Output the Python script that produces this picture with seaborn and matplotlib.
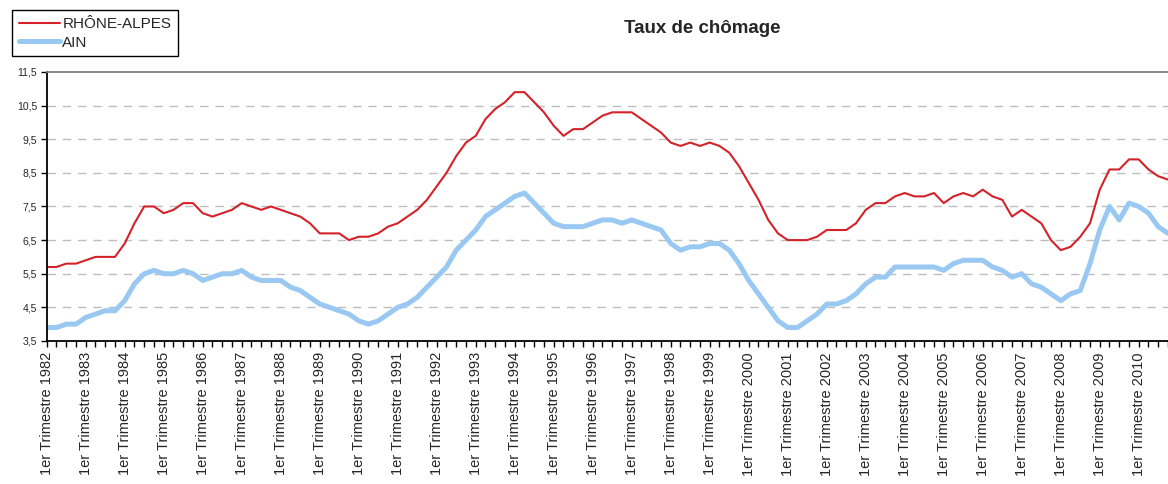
import numpy as np
import pandas as pd
import matplotlib
matplotlib.use("Agg")
import matplotlib.pyplot as plt
import seaborn as sns

# chart data: quarterly unemployment rates, 1982 Q1 -> 2010 Q4
years = list(range(1982, 2011))
quarter_names = ["1er", "2e", "3e", "4e"]
quarters = [q + " Trimestre " + str(y) for y in years for q in quarter_names]

rhone_alpes = [
    5.7, 5.7, 5.8, 5.8, 5.9, 6.0, 6.0, 6.0, 6.4, 7.0,
    7.5, 7.5, 7.3, 7.4, 7.6, 7.6, 7.3, 7.2, 7.3, 7.4,
    7.6, 7.5, 7.4, 7.5, 7.4, 7.3, 7.2, 7.0, 6.7, 6.7,
    6.7, 6.5, 6.6, 6.6, 6.7, 6.9, 7.0, 7.2, 7.4, 7.7,
    8.1, 8.5, 9.0, 9.4, 9.6, 10.1, 10.4, 10.6, 10.9, 10.9,
    10.6, 10.3, 9.9, 9.6, 9.8, 9.8, 10.0, 10.2, 10.3, 10.3,
    10.3, 10.1, 9.9, 9.7, 9.4, 9.3, 9.4, 9.3, 9.4, 9.3,
    9.1, 8.7, 8.2, 7.7, 7.1, 6.7, 6.5, 6.5, 6.5, 6.6,
    6.8, 6.8, 6.8, 7.0, 7.4, 7.6, 7.6, 7.8, 7.9, 7.8,
    7.8, 7.9, 7.6, 7.8, 7.9, 7.8, 8.0, 7.8, 7.7, 7.2,
    7.4, 7.2, 7.0, 6.5, 6.2, 6.3, 6.6, 7.0, 8.0, 8.6,
    8.6, 8.9, 8.9, 8.6, 8.4, 8.3,
]
ain = [
    3.9, 3.9, 4.0, 4.0, 4.2, 4.3, 4.4, 4.4, 4.7, 5.2,
    5.5, 5.6, 5.5, 5.5, 5.6, 5.5, 5.3, 5.4, 5.5, 5.5,
    5.6, 5.4, 5.3, 5.3, 5.3, 5.1, 5.0, 4.8, 4.6, 4.5,
    4.4, 4.3, 4.1, 4.0, 4.1, 4.3, 4.5, 4.6, 4.8, 5.1,
    5.4, 5.7, 6.2, 6.5, 6.8, 7.2, 7.4, 7.6, 7.8, 7.9,
    7.6, 7.3, 7.0, 6.9, 6.9, 6.9, 7.0, 7.1, 7.1, 7.0,
    7.1, 7.0, 6.9, 6.8, 6.4, 6.2, 6.3, 6.3, 6.4, 6.4,
    6.2, 5.8, 5.3, 4.9, 4.5, 4.1, 3.9, 3.9, 4.1, 4.3,
    4.6, 4.6, 4.7, 4.9, 5.2, 5.4, 5.4, 5.7, 5.7, 5.7,
    5.7, 5.7, 5.6, 5.8, 5.9, 5.9, 5.9, 5.7, 5.6, 5.4,
    5.5, 5.2, 5.1, 4.9, 4.7, 4.9, 5.0, 5.8, 6.8, 7.5,
    7.1, 7.6, 7.5, 7.3, 6.9, 6.7,
]
y_ticks = [3.5, 4.5, 5.5, 6.5, 7.5, 8.5, 9.5, 10.5, 11.5]

df = pd.DataFrame({
    "trimestre": quarters,
    "pos": range(len(quarters)),
    "RHÔNE-ALPES": rhone_alpes,
    "AIN": ain,
})

sns.set_style("white")
plt.rcParams["font.family"] = ["Liberation Sans", "DejaVu Sans"]

fig = plt.figure(figsize=(11.68, 4.84), dpi=100)
ax = fig.add_axes([0.040, 0.2955, 0.96, 0.5558])

for y in y_ticks[1:-1]:
    ax.axhline(y, color="#bdbdbd", linestyle=(0, (6, 5)), linewidth=1, zorder=0)

sns.lineplot(data=df, x="pos", y="RHÔNE-ALPES", color="#d42228", linewidth=1.5,
             label="RHÔNE-ALPES", ax=ax)
sns.lineplot(data=df, x="pos", y="AIN", color="#99c9f2", linewidth=3.6,
             label="AIN", ax=ax)

ax.set_xlim(0, 114.42)
ax.set_ylim(3.5, 11.5)
ax.set_xlabel("")
ax.set_ylabel("")

# year labels on the first quarter, small ticks on every quarter
year_pos = df["pos"][::4].tolist()
ax.set_xticks(year_pos)
ax.set_xticklabels(df["trimestre"][::4], rotation=90, fontsize=10.5)
ax.set_xticks(df["pos"].tolist(), minor=True)
ax.tick_params(axis="x", which="both", direction="out", length=4, width=1,
               color="black", bottom=True, pad=4)

ax.set_yticks(y_ticks)
ax.set_yticklabels([str(v).replace(".", ",") for v in y_ticks], fontsize=7.5)
ax.tick_params(axis="y", direction="out", length=4, width=1, color="black",
               left=True, pad=3)

for side in ["left", "bottom"]:
    ax.spines[side].set_color("black")
    ax.spines[side].set_linewidth(1.3)
ax.spines["top"].set_color("#808080")
ax.spines["top"].set_linewidth(1.3)
ax.spines["right"].set_visible(False)

ax.get_legend().remove()
handles, labels = ax.get_legend_handles_labels()
leg = fig.legend(handles, labels, loc="upper left", bbox_to_anchor=(0.0103, 0.979),
                 fontsize=11, frameon=True, fancybox=False, edgecolor="black",
                 framealpha=1, borderpad=0.45, labelspacing=0.3,
                 handlelength=2.7, handletextpad=0.15, borderaxespad=0)
leg.get_frame().set_linewidth(1)

fig.text(0.601, 0.942, "Taux de chômage", ha="center", va="center",
         fontsize=13.5, fontweight="bold")

fig.savefig("out.png", dpi=100)
